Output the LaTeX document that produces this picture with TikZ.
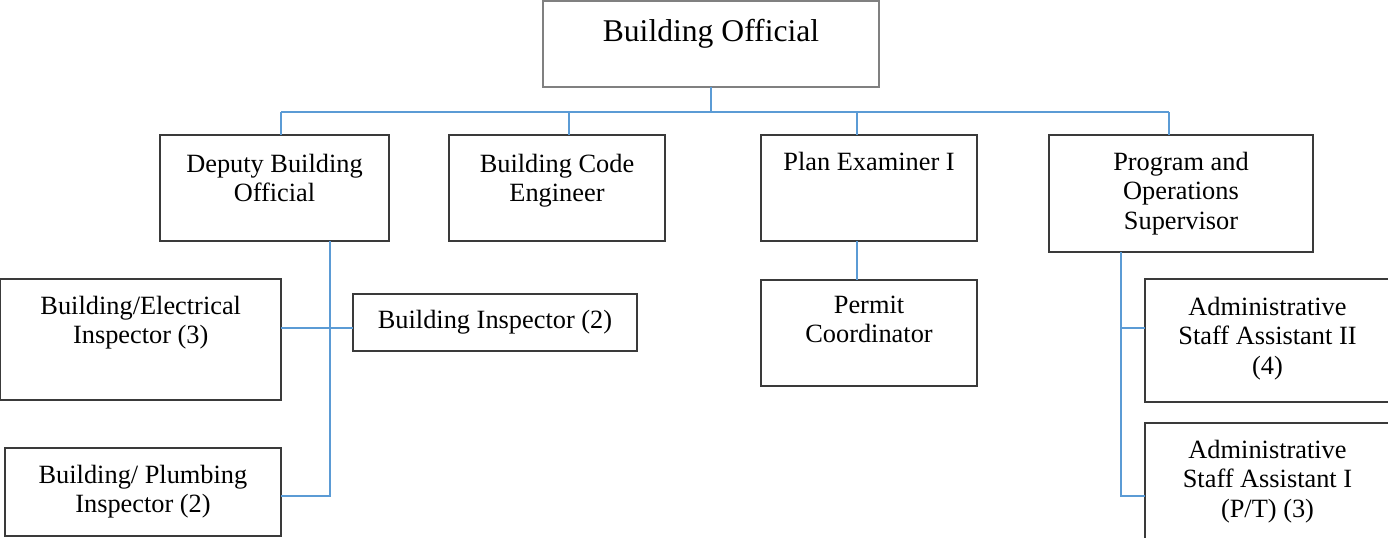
\documentclass[tikz,border=0pt]{standalone}
\usepackage{fontspec}
\setmainfont{Liberation Serif}
\definecolor{linkblue}{HTML}{5B9BD5}
\definecolor{boxgray}{HTML}{3A3A3A}
\definecolor{topgray}{HTML}{808080}
\newlength\pxunit
\setlength\pxunit{0.02cm}
% box body: width, height, first baseline offset (all in px units), text
\newcommand\orgbox[4]{%
  \begin{minipage}[t][#2\pxunit][t]{#1\pxunit}\centering
  \rule{0pt}{#3\pxunit}#4\end{minipage}}
\tikzset{
  unit/.style={draw=boxgray, line width=0.75pt, inner sep=0pt, outer sep=0pt,
    anchor=north west, font=\fontsize{15}{17}\selectfont},
  headunit/.style={unit, draw=topgray, font=\fontsize{18}{21}\selectfont},
  link/.style={draw=linkblue, line width=1.1pt}
}
\begin{document}
\begin{tikzpicture}[x=0.02cm, y=-0.02cm]
\useasboundingbox (0,0) rectangle (1388,537);

% boxes
\node[headunit] (top) at (543,1) {\orgbox{336}{86}{41}{Building Official}};
\node[unit] (dep) at (160,135) {\orgbox{229}{106}{37}{Deputy Building\\Official}};
\node[unit] (code) at (449,135) {\orgbox{216}{106}{37}{Building Code\\Engineer}};
\node[unit] (plan) at (761,135) {\orgbox{216}{106}{35}{Plan Examiner I}};
\node[unit] (prog) at (1049,135) {\orgbox{264}{117}{35}{Program and\\Operations\\Supervisor}};
\node[unit] (elec) at (0.5,279) {\orgbox{280.5}{121}{35}{Building/Electrical\\Inspector (3)}};
\node[unit] (binsp) at (353,294) {\orgbox{284}{57}{34}{Building Inspector (2)}};
\node[unit] (plumb) at (5,448) {\orgbox{276}{88}{35}{Building/ Plumbing\\Inspector (2)}};
\node[unit] (permit) at (761,280) {\orgbox{216}{106}{33}{Permit\\Coordinator}};
\node[unit] (adm2) at (1145,279) {\orgbox{245}{123}{36}{Administrative\\Staff Assistant II\\(4)}};
\node[unit] (adm1) at (1145,423) {\orgbox{245}{125}{35}{Administrative\\Staff Assistant I\\(P/T) (3)}};

% junction points
\coordinate (j1) at (281,112);
\coordinate (j2) at (569,112);
\coordinate (j3) at (857,112);
\coordinate (j4) at (1169,112);
\coordinate (dv) at (330,496);
\coordinate (dh) at (330,328);
\coordinate (pv) at (1121,496);
\coordinate (ph) at (1121,328);

% top-level bus
\draw[link] (top.south) -- (top.south |- j1);
\draw[link] (j1) -- (j4);
\draw[link] (j1) -- (j1 |- dep.north);
\draw[link] (j2) -- (j2 |- code.north);
\draw[link] (j3) -- (j3 |- plan.north);
\draw[link] (j4) -- (j4 |- prog.north);

% deputy branch
\draw[link] (dep.south -| dv) -- (dv) -- (dv -| plumb.east);
\draw[link] (elec.east |- dh) -- (binsp.west |- dh);

% plan examiner branch
\draw[link] (plan.south -| j3) -- (permit.north -| j3);

% program branch
\draw[link] (prog.south -| pv) -- (pv) -- (pv -| adm1.west);
\draw[link] (ph) -- (adm2.west |- ph);
\end{tikzpicture}
\end{document}
